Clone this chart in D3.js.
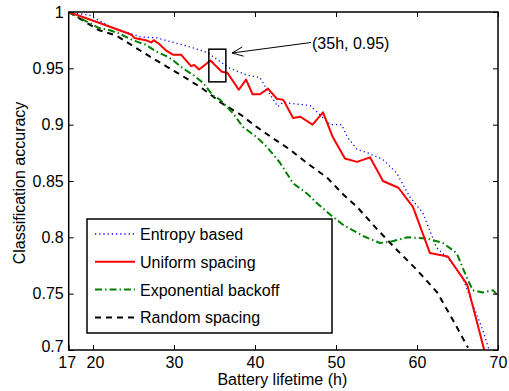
<!DOCTYPE html>
<html>
<head>
<meta charset="utf-8">
<script src="https://cdn.jsdelivr.net/npm/d3@7"></script>
<style>
  html, body { margin: 0; padding: 0; background: #fff; }
  svg { display: block; }
  text { font-family: "Liberation Sans", Arial, Helvetica, sans-serif; fill: #000; }
</style>
</head>
<body>
<svg id="chart" width="509" height="391"></svg>
<script>
// ---------------- data ----------------
const xTicks = [17, 20, 30, 40, 50, 60, 70];
const yTicks = [0.7, 0.75, 0.8, 0.85, 0.9, 0.95, 1];
const yTickLabels = ["0.7", "0.75", "0.8", "0.85", "0.9", "0.95", "1"];

const seriesNames = ["Entropy based", "Uniform spacing", "Exponential backoff", "Random spacing"];

const entropyH = [17, 19.6, 22.1, 25.8, 27.9, 29.9, 32.0, 34.1, 35.7, 36.9, 39.0, 40.6, 41.5, 42.8, 43.5, 44.3, 46.8, 48.0, 49.3, 50.7, 51.4, 52.6, 53.9, 55.8, 57.5, 59.1, 60.7, 62.4, 64.0, 65.6, 66.8, 68.1, 68.9];
const entropyAcc = [1.0, 0.997, 0.987, 0.978, 0.977, 0.973, 0.969, 0.964, 0.956, 0.950, 0.944, 0.942, 0.931, 0.916, 0.920, 0.919, 0.917, 0.909, 0.900, 0.900, 0.889, 0.878, 0.875, 0.869, 0.857, 0.836, 0.822, 0.791, 0.780, 0.765, 0.742, 0.718, 0.700];

const uniformH = [17, 20.9, 24.7, 25.1, 26.5, 27.2, 27.5, 28.1, 29.0, 29.9, 30.9, 32.1, 32.5, 33.1, 34.5, 35.9, 36.6, 38.0, 38.9, 39.7, 40.6, 41.6, 42.7, 43.5, 44.7, 45.6, 47.1, 48.4, 49.6, 51.1, 52.6, 54.2, 55.8, 57.7, 59.5, 61.6, 63.8, 66.2, 68.3];
const uniformAcc = [1.0, 0.990, 0.980, 0.977, 0.975, 0.973, 0.975, 0.972, 0.966, 0.962, 0.962, 0.952, 0.953, 0.949, 0.957, 0.947, 0.946, 0.931, 0.940, 0.927, 0.927, 0.932, 0.923, 0.922, 0.906, 0.907, 0.900, 0.911, 0.889, 0.870, 0.867, 0.871, 0.850, 0.844, 0.827, 0.786, 0.783, 0.758, 0.700];

const expoH = [17, 19.1, 20.7, 22.0, 23.2, 24.9, 26.5, 27.8, 29.0, 29.9, 31.1, 32.4, 33.6, 34.8, 35.7, 37.3, 38.5, 40.2, 41.5, 43.1, 44.7, 46.4, 47.7, 49.3, 50.9, 53.4, 55.4, 56.7, 58.8, 61.2, 63.2, 64.9, 66.1, 66.9, 68.1, 69.4, 70.0];
const expoAcc = [1.0, 0.992, 0.986, 0.984, 0.981, 0.975, 0.971, 0.965, 0.961, 0.957, 0.950, 0.944, 0.937, 0.926, 0.922, 0.910, 0.898, 0.889, 0.880, 0.866, 0.848, 0.839, 0.830, 0.820, 0.811, 0.801, 0.795, 0.796, 0.800, 0.799, 0.795, 0.786, 0.765, 0.753, 0.751, 0.753, 0.748];

const randomH = [17, 20.7, 22.9, 24.9, 26.9, 29.0, 31.1, 33.1, 34.3, 35.7, 38.2, 40.2, 42.2, 44.3, 46.4, 48.9, 50.9, 52.6, 55.1, 57.5, 60.0, 62.5, 64.4, 66.3];
const randomAcc = [1.0, 0.984, 0.979, 0.970, 0.961, 0.952, 0.943, 0.934, 0.928, 0.920, 0.909, 0.898, 0.888, 0.878, 0.866, 0.853, 0.838, 0.827, 0.807, 0.789, 0.771, 0.751, 0.727, 0.702];

const annotationText = "(35h, 0.95)";
const boxH = [34.3, 36.4];
const boxAcc = [0.938, 0.967];

// ---------------- layout ----------------
const svg = d3.select("#chart");
const pL = 68.7, pR = 498, pT = 12, pB = 350;
const x = d3.scaleLinear().domain([17, 70]).range([pL, pR]);
const y = d3.scaleLinear().domain([0.7, 1]).range([pB, pT]);

svg.append("defs").append("clipPath").attr("id", "clip")
  .append("rect").attr("x", pL).attr("y", pT).attr("width", pR - pL).attr("height", pB - pT);

const styles = [
  { color: "#0000ff", width: 1.3, dash: "1.2,3" },
  { color: "#ff0000", width: 2, dash: null },
  { color: "#008000", width: 2, dash: "7,3,1.5,3" },
  { color: "#000000", width: 2, dash: "6,5" }
];
const seriesData = [
  d3.zip(entropyH, entropyAcc),
  d3.zip(uniformH, uniformAcc),
  d3.zip(expoH, expoAcc),
  d3.zip(randomH, randomAcc)
];

const line = d3.line().x(d => x(d[0])).y(d => y(d[1]));
const plot = svg.append("g").attr("clip-path", "url(#clip)");
[0, 3, 2, 1].forEach(i => {
  const s = styles[i];
  plot.append("path")
    .datum(seriesData[i])
    .attr("d", line)
    .attr("fill", "none")
    .attr("stroke", s.color)
    .attr("stroke-width", s.width)
    .attr("stroke-dasharray", s.dash)
    .attr("stroke-linejoin", "round");
});

// ---------------- axes ----------------
const tickLen = 5;
const axB = svg.append("g").attr("transform", `translate(0,${pB})`)
  .call(d3.axisBottom(x).tickValues(xTicks).tickSizeInner(-tickLen).tickSizeOuter(0).tickPadding(7));
const axT = svg.append("g").attr("transform", `translate(0,${pT})`)
  .call(d3.axisTop(x).tickValues(xTicks.slice(1)).tickSizeInner(-tickLen).tickSizeOuter(0).tickFormat(""));
const axL = svg.append("g").attr("transform", `translate(${pL},0)`)
  .call(d3.axisLeft(y).tickValues(yTicks).tickSizeInner(-tickLen).tickSizeOuter(0).tickPadding(5)
    .tickFormat((d, i) => yTickLabels[i]));
const axR = svg.append("g").attr("transform", `translate(${pR},0)`)
  .call(d3.axisRight(y).tickValues(yTicks).tickSizeInner(-tickLen).tickSizeOuter(0).tickFormat(""));

[axB, axT, axL, axR].forEach(a => {
  a.select(".domain").remove();
  a.selectAll("line").attr("stroke", "#000").attr("stroke-width", 1);
  a.selectAll("text").attr("font-size", 16).attr("fill", "#000")
    .style("font-family", '"Liberation Sans", Arial, sans-serif');
});
axB.selectAll("text").attr("dy", "0.71em");
axB.selectAll(".tick").filter(d => d === 17).select("text").attr("dx", -2);
axB.selectAll(".tick").filter(d => d === 20).select("text").attr("dx", 2);
axL.selectAll(".tick").filter(d => d === 0.7).select("text").attr("dy", "0.1em");

svg.append("rect").attr("x", pL).attr("y", pT).attr("width", pR - pL).attr("height", pB - pT)
  .attr("fill", "none").attr("stroke", "#000").attr("stroke-width", 1.5);

// axis labels
svg.append("text").attr("x", (pL + pR) / 2 - 1).attr("y", 385)
  .attr("text-anchor", "middle").attr("font-size", 16).text("Battery lifetime (h)");
svg.append("text").attr("transform", `translate(25,${(pT + pB) / 2 + 2}) rotate(-90)`)
  .attr("text-anchor", "middle").attr("font-size", 16).text("Classification accuracy");

// ---------------- annotation ----------------
svg.append("rect")
  .attr("x", x(boxH[0])).attr("y", y(boxAcc[1]))
  .attr("width", x(boxH[1]) - x(boxH[0])).attr("height", y(boxAcc[0]) - y(boxAcc[1]))
  .attr("fill", "none").attr("stroke", "#000").attr("stroke-width", 1.5);

const hx = 232, hy = 53, tailX = 311, tailY = 42.5;
svg.append("line").attr("x1", tailX).attr("y1", tailY).attr("x2", hx).attr("y2", hy)
  .attr("stroke", "#000").attr("stroke-width", 1);
const ang = Math.atan2(tailY - hy, tailX - hx);
const aL = 12, aW = 0.4;
svg.append("path")
  .attr("d", `M${hx + aL * Math.cos(ang + aW)},${hy + aL * Math.sin(ang + aW)} L${hx},${hy} L${hx + aL * Math.cos(ang - aW)},${hy + aL * Math.sin(ang - aW)}`)
  .attr("fill", "none").attr("stroke", "#000").attr("stroke-width", 1);
svg.append("text").attr("x", 312).attr("y", 49).attr("font-size", 16).text(annotationText);

// ---------------- legend ----------------
const lg = svg.append("g");
lg.append("rect").attr("x", 87).attr("y", 219).attr("width", 245).attr("height", 114)
  .attr("fill", "#fff").attr("stroke", "#000").attr("stroke-width", 1.5);
seriesNames.forEach((name, i) => {
  const cy = 234 + i * 27.8;
  const s = styles[i];
  lg.append("line").attr("x1", 95).attr("x2", 135).attr("y1", cy).attr("y2", cy)
    .attr("stroke", s.color).attr("stroke-width", s.width).attr("stroke-dasharray", s.dash);
  lg.append("text").attr("x", 140).attr("y", cy + 6).attr("font-size", 16).text(name);
});
</script>
</body>
</html>
